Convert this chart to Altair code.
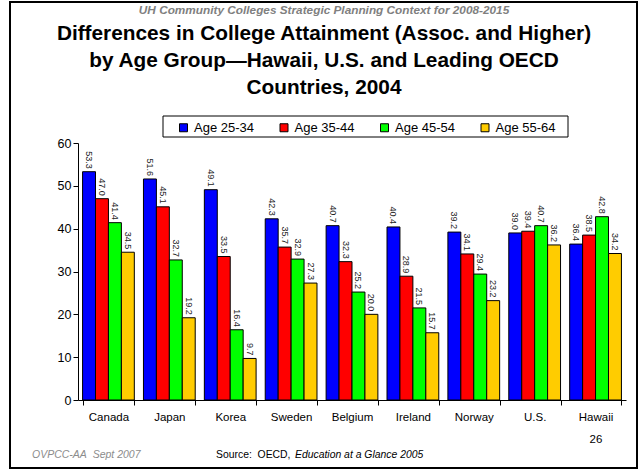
import altair as alt
import pandas as pd

countries = ["Canada", "Japan", "Korea", "Sweden", "Belgium", "Ireland", "Norway", "U.S.", "Hawaii"]
ages = ["Age 25-34", "Age 35-44", "Age 45-54", "Age 55-64"]
age_25_34 = [53.3, 51.6, 49.1, 42.3, 40.7, 40.4, 39.2, 39.0, 36.4]
age_35_44 = [47.0, 45.1, 33.5, 35.7, 32.3, 28.9, 34.1, 39.4, 38.5]
age_45_54 = [41.4, 32.7, 16.4, 32.9, 25.2, 21.5, 29.4, 40.7, 42.8]
age_55_64 = [34.5, 19.2, 9.7, 27.3, 20.0, 15.7, 23.2, 36.2, 34.2]
colors = ["#0000FF", "#FF0000", "#00FF00", "#FFCC00"]
y_ticks = [0, 10, 20, 30, 40, 50, 60]

header = ["UH Community Colleges Strategic Planning Context for 2008-2015"]
title_text = ["Differences in College Attainment (Assoc. and Higher)\nby Age Group\u2014Hawaii, U.S. and Leading OECD\nCountries, 2004"]
footer_left = ["OVPCC-AA\u00a0 Sept 2007"]
source_plain = ["Source:\u00a0 OECD, "]
source_italic = ["Education at a Glance 2005"]
page_no = ["26"]

series = [age_25_34, age_35_44, age_45_54, age_55_64]
rows = []
for age, vals in zip(ages, series):
    for c, v in zip(countries, vals):
        rows.append({"country": c, "age": age, "value": v})
df = pd.DataFrame(rows)

FONT = "Liberation Sans"

x_enc = alt.X("country:N", sort=countries,
              scale=alt.Scale(paddingInner=0.15, paddingOuter=0.075),
              axis=alt.Axis(title=None, labelAngle=0, tickBand="extent", tickSize=5,
                            labelPadding=6, labelFontSize=11.5, labelFont=FONT,
                            labelColor="black", domainColor="black", tickColor="black",
                            grid=False))
xoff_enc = alt.XOffset("age:N", sort=ages, scale=alt.Scale(paddingInner=0, paddingOuter=0))
y_enc = alt.Y("value:Q", scale=alt.Scale(domain=[0, 60], nice=False),
              axis=alt.Axis(title=None, values=y_ticks, grid=False, tickSize=5,
                            labelPadding=2, labelFontSize=12.5, labelFont=FONT,
                            labelColor="black", domainColor="black", tickColor="black"))

bars = alt.Chart(df).mark_bar(stroke="black", strokeWidth=1).encode(
    x=x_enc, xOffset=xoff_enc, y=y_enc,
    color=alt.Color("age:N", sort=ages,
                    scale=alt.Scale(domain=ages, range=colors),
                    legend=alt.Legend(title=None, orient="none", direction="horizontal",
                                      legendX=99, legendY=-22, padding=0,
                                      symbolType="square", symbolSize=64,
                                      symbolStrokeColor="black", symbolStrokeWidth=1,
                                      symbolOpacity=1,
                                      labelFontSize=13, labelFont=FONT, labelColor="black",
                                      labelOffset=4, columnPadding=23.5)),
)

labels = alt.Chart(df).mark_text(angle=90, align="right", baseline="middle", dx=-3,
                                 fontSize=9, font=FONT, color="#222222").encode(
    x=alt.X("country:N", sort=countries), xOffset=alt.XOffset("age:N", sort=ages),
    y="value:Q", text=alt.Text("value:Q", format=".1f"))

one = pd.DataFrame({"k": [0]})

legend_box = alt.Chart(one).mark_rect(filled=False, stroke="black", strokeWidth=1).encode(
    x=alt.value(85), x2=alt.value(490), y=alt.value(-27), y2=alt.value(-6))

frame = alt.Chart(one).mark_rect(filled=False, stroke="black", strokeWidth=2).encode(
    x=alt.value(-68), x2=alt.value(559), y=alt.value(-141), y2=alt.value(325))

def note(texts, x, y, **kw):
    return alt.Chart(pd.DataFrame({"t": texts})).mark_text(font=FONT, **kw).encode(
        text="t:N", x=alt.value(x), y=alt.value(y))

header_t = note(header, 246, -133, fontSize=11.8, fontWeight="bold", fontStyle="italic",
                color="#808080", align="center", baseline="middle")
title_t = note(title_text, 246, -119, fontSize=20.8, fontWeight="bold", color="black",
               align="center", baseline="top", lineBreak="\n", lineHeight=27)
foot_l = note(footer_left, -46, 312, fontSize=10.5, fontStyle="italic", color="#8c8c8c",
              align="left", baseline="middle")
src_p = note(source_plain, 138, 312, fontSize=10.4, color="black", align="left", baseline="middle")
src_i = note(source_italic, 217, 312, fontSize=10.4, fontStyle="italic", color="black",
             align="left", baseline="middle")
page_t = note(page_no, 518, 297, fontSize=11.5, color="black", align="center", baseline="middle")

chart = alt.layer(frame, legend_box, bars, labels, header_t, title_t, foot_l, src_p, src_i, page_t).properties(
    width=548, height=257,
    autosize=alt.AutoSizeParams(type="none"),
    padding={"left": 78, "top": 143, "right": 13, "bottom": 71},
    background="white",
).configure_view(stroke=None)

chart.save("out.html", embed_options={"renderer": "svg", "actions": False})
